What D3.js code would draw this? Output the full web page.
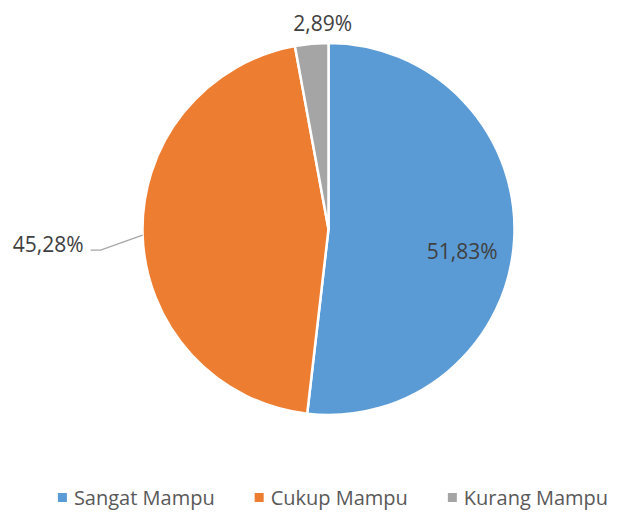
<!DOCTYPE html>
<html>
<head>
<meta charset="utf-8">
<script src="https://cdn.jsdelivr.net/npm/d3@7"></script>
<style>
  body { margin: 0; background: #fff; }
  svg { display: block; font-family: "Open Sans", sans-serif; }
</style>
</head>
<body>
<div id="chart"></div>
<script>
// chart data
const categories = ["Sangat Mampu", "Cukup Mampu", "Kurang Mampu"];
const values = [51.83, 45.28, 2.89];
const labels = ["51,83%", "45,28%", "2,89%"];
const colors = ["#5B9BD5", "#ED7D31", "#A5A5A5"];

const width = 619, height = 516;
const cx = 328.5, cy = 229, radius = 186;

const svg = d3.select("#chart").append("svg")
    .attr("width", width)
    .attr("height", height);

const color = d3.scaleOrdinal().domain(categories).range(colors);

const pie = d3.pie().sort(null).value(d => d.value);
const arcs = pie(categories.map((name, i) => ({ name, value: values[i], label: labels[i] })));

const arc = d3.arc().innerRadius(0).outerRadius(radius);

const g = svg.append("g").attr("transform", `translate(${cx},${cy})`);

g.selectAll("path")
    .data(arcs)
    .join("path")
    .attr("fill", d => color(d.data.name))
    .attr("stroke", "white")
    .attr("stroke-width", 2.5)
    .attr("stroke-linejoin", "round")
    .attr("d", arc);

// labels: inside for the big blue, outside for the others
const pt = (a, r) => [Math.sin(a) * r, -Math.cos(a) * r];
const mid = d => (d.startAngle + d.endAngle) / 2;

// Sangat Mampu (inside)
{
  const d = arcs[0];
  const [x, y] = pt(mid(d), radius * 0.72);
  g.append("text")
      .attr("x", x).attr("y", y + 15)
      .attr("text-anchor", "middle")
      .attr("dy", "0.35em")
      .attr("font-size", 21)
      .attr("fill", "#404040")
      .text(d.data.label);
}

// Cukup Mampu (outside, with leader line)
{
  const d = arcs[1];
  const a = mid(d);
  const [ex, ey] = pt(a, radius);
  const tx = ex - 52, ty = ey + 15;
  g.append("polyline")
      .attr("points", [[ex, ey], [tx + 10, ty], [tx, ty]].map(p => p.join(",")).join(" "))
      .attr("fill", "none")
      .attr("stroke", "#A6A6A6")
      .attr("stroke-width", 1.3);
  g.append("text")
      .attr("x", tx - 7).attr("y", ty - 6)
      .attr("text-anchor", "end")
      .attr("dy", "0.35em")
      .attr("font-size", 21)
      .attr("fill", "#404040")
      .text(d.data.label);
}

// Kurang Mampu (outside, above)
{
  const d = arcs[2];
  const [x, y] = pt(mid(d), radius + 22);
  g.append("text")
      .attr("x", x + 13).attr("y", y + 2)
      .attr("text-anchor", "middle")
      .attr("dy", "0.35em")
      .attr("font-size", 21)
      .attr("fill", "#404040")
      .text(d.data.label);
}

// legend, laid out from the measured text widths and centred
const legend = svg.append("g")
    .selectAll("g")
    .data(categories)
    .join("g");

legend.append("rect")
    .attr("x", 0).attr("y", -4.5)
    .attr("width", 9).attr("height", 9)
    .attr("fill", color);

legend.append("text")
    .attr("x", 16)
    .attr("dy", "0.35em")
    .attr("font-size", 20)
    .attr("fill", "#595959")
    .text(d => d);

const gap = 40;
const widths = legend.nodes().map(n => 16 + n.querySelector("text").getComputedTextLength());
const total = d3.sum(widths) + gap * (widths.length - 1);
let lx = 333 - total / 2;
legend.attr("transform", (d, i) => {
  const x = lx;
  lx += widths[i] + gap;
  return `translate(${x}, 497.5)`;
});
</script>
</body>
</html>
